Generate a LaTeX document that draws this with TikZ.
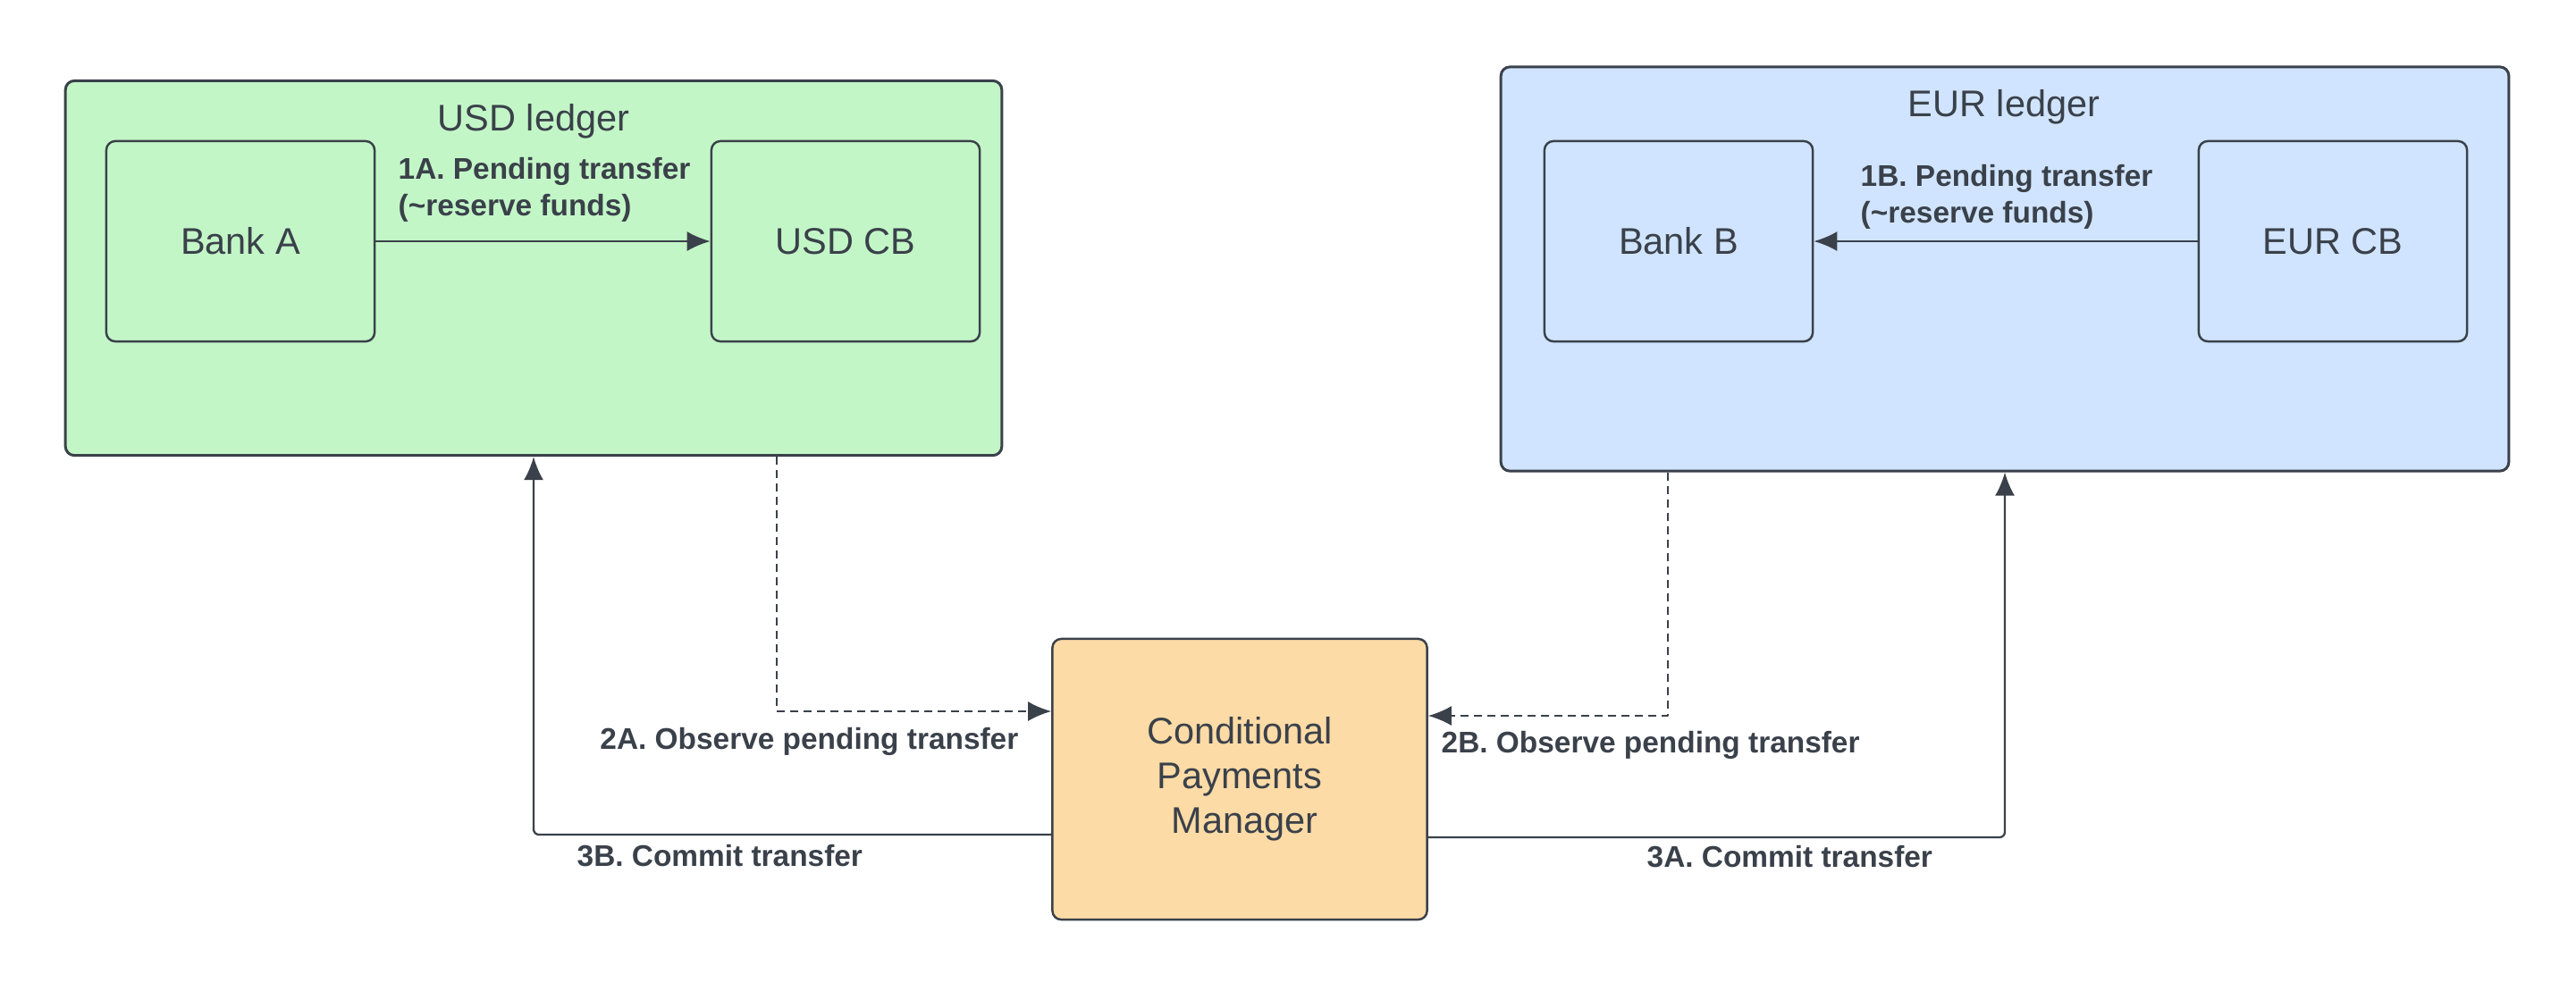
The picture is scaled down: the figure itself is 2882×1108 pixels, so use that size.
\documentclass[tikz,border=0pt]{standalone}
\usepackage{fontspec}
\setmainfont{Liberation Sans}
\usetikzlibrary{arrows.meta}

\definecolor{usdgreen}{HTML}{C3F6C7}
\definecolor{eurblue}{HTML}{D0E4FF}
\definecolor{cpmorange}{HTML}{FDDBA6}
\definecolor{ink}{HTML}{3A414A}

\begin{document}
\begin{tikzpicture}[x=0.01cm, y=-0.01cm, line join=round]

\tikzset{
    box/.style={draw=ink, line width=0.7pt, rounded corners=0.1cm, inner sep=0pt, text=ink,
        font=\fontsize{11.8}{14.2}\selectfont, align=center},
    ledger/.style={box, line width=0.85pt, minimum width=#1},
    bank/.style={box, minimum width=3cm, minimum height=2.24cm},
    title/.style={text=ink, inner sep=0pt, font=\fontsize{11.8}{14.2}\selectfont},
    lbl/.style={text=ink, inner sep=0pt, align=left, font=\bfseries\fontsize{9.5}{11.7}\selectfont},
    flow/.style={draw=ink, line width=0.65pt, -{Latex[length=0.26cm,width=0.22cm]}},
    observe/.style={flow, dash pattern=on 0.09cm off 0.06cm}
}

\useasboundingbox (0,0) rectangle (2882,1108);

\node[ledger=10.47cm, minimum height=4.19cm, fill=usdgreen] (usd) at (597,300) {};
\node[ledger=11.27cm, minimum height=4.52cm, fill=eurblue] (eur) at (2243,301) {};

\node[title] (usdtitle) at (597,136) {USD ledger};
\node[title] (eurtitle) at (2242,120) {EUR ledger};

\node[bank, fill=usdgreen] (banka) at (269,270) {Bank A};
\node[bank, fill=usdgreen] (usdcb) at (946,270) {USD CB};
\node[bank, fill=eurblue] (bankb) at (1878,270) {Bank B};
\node[bank, fill=eurblue] (eurcb) at (2610,270) {EUR CB};

\node[box, minimum width=4.19cm, minimum height=3.14cm, fill=cpmorange] (cpm) at (1387,872)
    {Conditional\\Payments\\\hspace*{0.28em}Manager};

\draw[flow] (banka) -- (usdcb);
\draw[flow] (eurcb) -- (bankb);

\draw[observe] (usd.south -| 869,0) |- (cpm.west |- 0,796);
\draw[observe] (eur.south -| 1866,0) |- (cpm.east |- 0,801);

\draw[flow, rounded corners=0.06cm] (cpm.west |- 0,934) -| (usd.south);
\draw[flow, rounded corners=0.06cm] (cpm.east |- 0,937) -| (eur.south);

\node[lbl, anchor=west] (lbl1a) at (445,212) {1A. Pending transfer\\(\textasciitilde reserve funds)};
\node[lbl, anchor=west] (lbl1b) at (2081,220) {1B. Pending transfer\\(\textasciitilde reserve funds)};
\node[lbl, anchor=east] (lbl2a) at (1140,830) {2A. Observe pending transfer};
\node[lbl, anchor=west] (lbl2b) at (1612,834) {2B. Observe pending transfer};
\node[lbl, anchor=west] (lbl3b) at (645,958) {3B. Commit transfer};
\node[lbl, anchor=west] (lbl3a) at (1842,959) {3A. Commit transfer};

\end{tikzpicture}
\end{document}
